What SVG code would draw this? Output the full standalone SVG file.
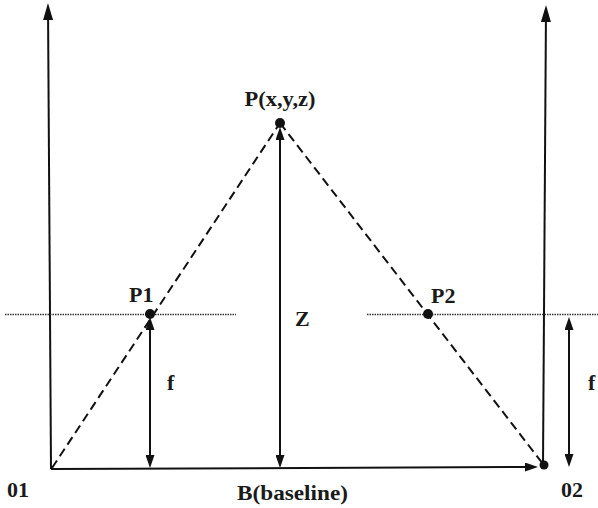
<svg xmlns="http://www.w3.org/2000/svg" width="598" height="508" viewBox="0 0 598 508">
  <style>
    .lbl { font-family: "Liberation Serif", "Times New Roman", serif; font-weight: bold; font-size: 22px; fill: #1a1a1a; }
    .axis { stroke: #111; stroke-width: 2; fill: none; }
    .dash { stroke: #111; stroke-width: 2; stroke-dasharray: 9 5; fill: none; }
    .dot { stroke: #333; stroke-width: 1.5; stroke-dasharray: 1.5 1; fill: none; }
    .pt { fill: #111; }
  </style>
  <defs>
    <marker id="bigHead" markerUnits="userSpaceOnUse" viewBox="0 0 17 10" markerWidth="17" markerHeight="10" refX="14" refY="5" orient="auto-start-reverse">
      <path d="M0,0 L17,5 L0,10 z" fill="#111"/>
    </marker>
    <marker id="smallHead" markerUnits="userSpaceOnUse" viewBox="0 0 13 9" markerWidth="13" markerHeight="9" refX="10" refY="4.5" orient="auto-start-reverse">
      <path d="M0,0 L13,4.5 L0,9 z" fill="#111"/>
    </marker>
  </defs>

  <g id="connectors">
    <line class="axis" x1="51" y1="469" x2="48" y2="6" marker-end="url(#bigHead)"/>
    <line class="axis" x1="543" y1="465" x2="546" y2="8" marker-end="url(#bigHead)"/>
    <line class="axis" x1="51" y1="469" x2="535" y2="467" marker-end="url(#smallHead)"/>
    <line class="dot" x1="5" y1="314.5" x2="236" y2="314.5"/>
    <line class="dot" x1="367" y1="314.5" x2="598" y2="314.5"/>
    <line class="dash" x1="52" y1="468" x2="280" y2="123"/>
    <line class="dash" x1="280" y1="123" x2="543" y2="464"/>
    <line class="axis" x1="280" y1="130" x2="280" y2="465" marker-start="url(#smallHead)" marker-end="url(#smallHead)"/>
    <line class="axis" x1="150" y1="320" x2="150" y2="465" marker-start="url(#smallHead)" marker-end="url(#smallHead)"/>
    <line class="axis" x1="569" y1="320" x2="569" y2="464" marker-start="url(#smallHead)" marker-end="url(#smallHead)"/>
  </g>

  <g id="node-P">
    <circle class="pt" cx="280" cy="123" r="5"/>
    <text class="lbl" x="280" y="106" text-anchor="middle" textLength="71" lengthAdjust="spacingAndGlyphs">P(x,y,z)</text>
  </g>
  <g id="node-P1">
    <circle class="pt" cx="150" cy="314" r="5"/>
    <text class="lbl" x="129" y="302">P1</text>
  </g>
  <g id="node-P2">
    <circle class="pt" cx="428" cy="314" r="5"/>
    <text class="lbl" x="431" y="303">P2</text>
  </g>
  <g id="node-O1">
    <text class="lbl" x="7" y="497">01</text>
  </g>
  <g id="node-O2">
    <circle class="pt" cx="544" cy="465" r="4.5"/>
    <text class="lbl" x="561" y="497">02</text>
  </g>
  <g id="labels">
    <text class="lbl" x="295" y="326">Z</text>
    <text class="lbl" x="167" y="390">f</text>
    <text class="lbl" x="588" y="390">f</text>
    <text class="lbl" x="237" y="500" textLength="111" lengthAdjust="spacingAndGlyphs">B(baseline)</text>
  </g>
</svg>
